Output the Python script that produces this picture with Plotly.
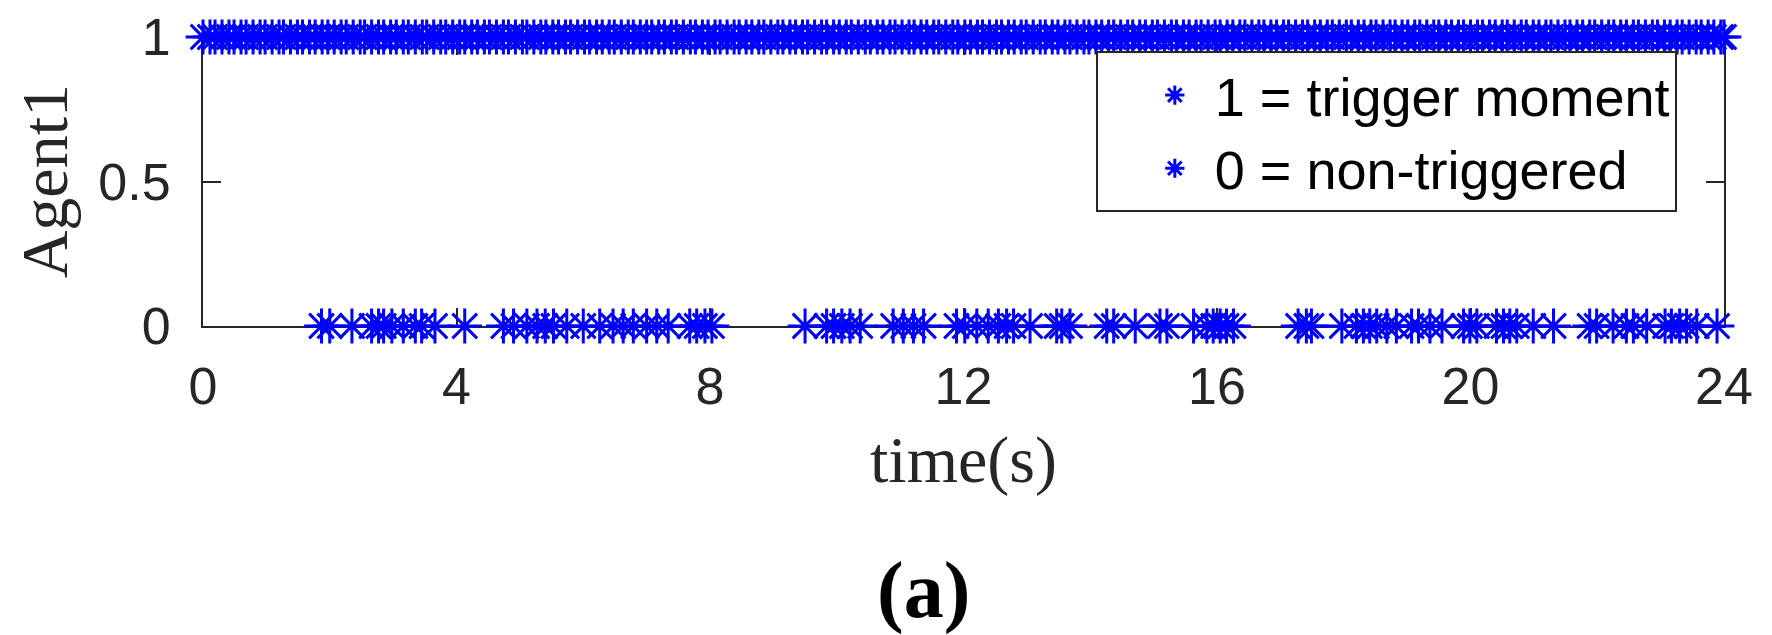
import plotly.graph_objects as go

# trigger moments (value 1) – dense band across the whole run
t_trigger = [0.00, 0.11, 0.19, 0.30, 0.41, 0.49, 0.60, 0.68, 0.79, 0.90, 0.98, 1.09, 1.20, 1.27, 1.38,
             1.49, 1.57, 1.68, 1.77, 1.88, 1.97, 2.07, 2.18, 2.26, 2.37, 2.48, 2.55, 2.66, 2.77, 2.85,
             2.96, 3.05, 3.16, 3.24, 3.35, 3.46, 3.53, 3.64, 3.75, 3.83, 3.94, 4.05, 4.13, 4.24, 4.33,
             4.44, 4.52, 4.63, 4.74, 4.82, 4.93, 5.04, 5.11, 5.22, 5.33, 5.41, 5.52, 5.61, 5.72, 5.80,
             5.91, 6.02, 6.10, 6.21, 6.30, 6.41, 6.49, 6.60, 6.71, 6.79, 6.90, 7.00, 7.08, 7.19, 7.28,
             7.39, 7.47, 7.58, 7.69, 7.77, 7.88, 7.97, 8.08, 8.16, 8.27, 8.38, 8.46, 8.57, 8.66, 8.77,
             8.85, 8.96, 9.07, 9.15, 9.26, 9.35, 9.46, 9.54, 9.65, 9.76, 9.84, 9.95, 10.04, 10.15, 10.23,
             10.34, 10.45, 10.53, 10.64, 10.73, 10.84, 10.92, 11.03, 11.14, 11.22, 11.33, 11.42, 11.53,
             11.61, 11.72, 11.83, 11.91, 12.02, 12.11, 12.22, 12.30, 12.41, 12.52, 12.60, 12.71, 12.80,
             12.91, 12.99, 13.10, 13.21, 13.29, 13.40, 13.49, 13.60, 13.68, 13.79, 13.90, 13.98, 14.09,
             14.18, 14.29, 14.37, 14.48, 14.59, 14.67, 14.78, 14.87, 14.98, 15.06, 15.17, 15.28, 15.36,
             15.47, 15.56, 15.67, 15.75, 15.86, 15.97, 16.05, 16.16, 16.25, 16.36, 16.44, 16.55, 16.66,
             16.74, 16.85, 16.94, 17.05, 17.13, 17.24, 17.35, 17.43, 17.54, 17.63, 17.74, 17.82, 17.93,
             18.04, 18.12, 18.23, 18.32, 18.43, 18.51, 18.62, 18.73, 18.81, 18.92, 19.01, 19.12, 19.20,
             19.31, 19.42, 19.50, 19.61, 19.70, 19.81, 19.89, 20.00, 20.11, 20.19, 20.30, 20.39, 20.50,
             20.58, 20.69, 20.80, 20.88, 20.99, 21.08, 21.19, 21.27, 21.38, 21.49, 21.57, 21.68, 21.77,
             21.88, 21.96, 22.07, 22.18, 22.26, 22.37, 22.46, 22.57, 22.65, 22.76, 22.87, 22.95, 23.06,
             23.15, 23.26, 23.34, 23.45, 23.56, 23.64, 23.75, 23.84, 23.95, 24.00]
v_trigger = [1] * len(t_trigger)

# non-triggered moments (value 0)
t_idle = [1.87, 2.00, 2.35, 2.66, 2.77, 2.85, 2.98, 3.16, 3.35, 3.45, 3.66, 4.13,
          4.74, 4.90, 5.11, 5.27, 5.40, 5.53, 5.74, 6.00, 6.26, 6.47, 6.63, 6.79, 7.00, 7.16,
          7.34, 7.68, 7.79, 7.92, 8.03,
          9.50, 9.84, 9.95, 10.08, 10.21, 10.37,
          10.89, 11.05, 11.21, 11.37,
          11.89, 12.02, 12.21, 12.39, 12.55, 12.68, 12.79,
          13.05, 13.47, 13.55, 13.68,
          14.26, 14.37, 14.71, 15.10, 15.21, 15.63, 15.84, 15.94, 16.05, 16.15, 16.26,
          17.28, 17.41, 17.49,
          17.97, 18.20, 18.31, 18.41, 18.52,
          18.68, 18.83, 19.07, 19.18, 19.36, 19.55, 19.89, 19.99, 20.10, 20.41, 20.52, 20.62,
          20.73, 20.99, 21.31,
          21.88, 21.99, 22.25, 22.46, 22.57, 22.78, 23.07, 23.17, 23.30, 23.41, 23.57, 23.89]
v_idle = [0] * len(t_idle)

x_ticks = [0, 4, 8, 12, 16, 20, 24]
y_ticks = [0, 0.5, 1]
y_tick_text = ["0", "0.5", "1"]

BLUE = "#0000FF"
AX = "#262626"
SANS = "Liberation Sans, Arial, sans-serif"
SERIF = "Liberation Serif, Times New Roman, serif"

marker = dict(symbol="asterisk-open", size=29, color=BLUE, line=dict(color=BLUE, width=3))

fig = go.Figure()
fig.add_trace(go.Scatter(x=t_trigger, y=v_trigger, mode="markers", name="1 = trigger moment",
                         marker=marker, cliponaxis=False))
fig.add_trace(go.Scatter(x=t_idle, y=v_idle, mode="markers", name="0 = non-triggered",
                         marker=marker, cliponaxis=False))

axis_common = dict(showline=True, linecolor=AX, linewidth=2, mirror="allticks",
                   ticks="inside", ticklen=18, tickwidth=2, tickcolor=AX,
                   showgrid=False, zeroline=False, layer="below traces", automargin=False,
                   tickfont=dict(family=SANS, size=52, color=AX))

fig.update_xaxes(range=[0, 24], tickvals=x_ticks, ticklabelstandoff=14, **axis_common)
fig.update_yaxes(range=[0, 1], tickvals=y_ticks, ticktext=y_tick_text, ticklabelstandoff=20,
                 **axis_common)

fig.add_annotation(text="time(s)", xref="paper", yref="paper", x=0.5, y=-0.465,
                   xanchor="center", yanchor="middle", showarrow=False,
                   font=dict(family=SERIF, size=66, color=AX))
fig.add_annotation(text="Agent1", xref="paper", yref="paper", x=-0.104, y=0.5,
                   xanchor="center", yanchor="middle", showarrow=False, textangle=-90,
                   font=dict(family=SERIF, size=66, color=AX))
fig.add_annotation(text="<b>(a)</b>", xref="paper", yref="paper", x=0.474, y=-0.915,
                   xanchor="center", yanchor="middle", showarrow=False,
                   font=dict(family=SERIF, size=80, color="black"))

fig.update_layout(
    width=1764, height=627,
    margin=dict(l=195, r=48, t=29, b=309, autoexpand=False),
    paper_bgcolor="white", plot_bgcolor="white",
    showlegend=True,
    legend=dict(x=0.587, y=0.95, xanchor="left", yanchor="top",
                bgcolor="white", bordercolor=AX, borderwidth=2,
                font=dict(family=SANS, size=54, color="black"),
                itemwidth=70, indentation=37, tracegroupgap=0),
)

fig.write_html("out.html")
